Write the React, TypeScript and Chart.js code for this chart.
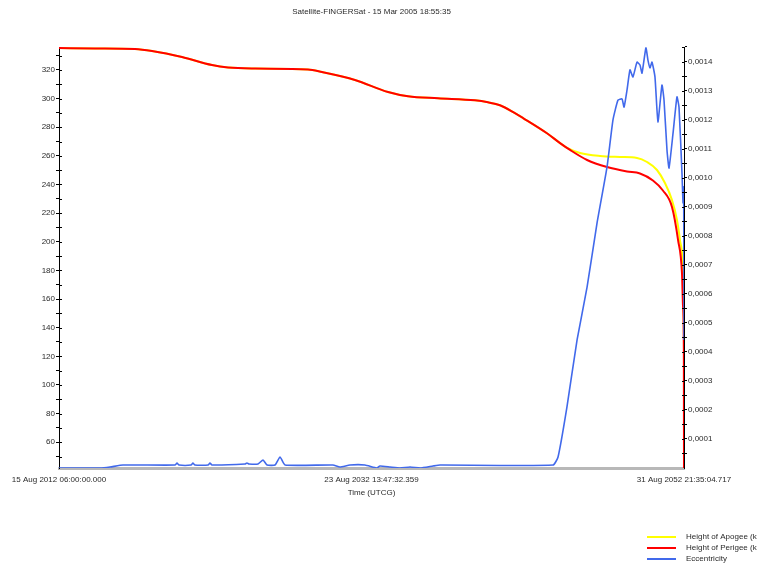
import React, { useEffect, useRef } from 'react';
import { Chart, registerables } from 'chart.js';

Chart.register(...registerables);

const chartTitle = 'Satellite-FINGERSat - 15 Mar 2005 18:55:35';
const xAxisTitle = 'Time (UTCG)';
const xTickLabels = ['15 Aug 2012 06:00:00.000', '23 Aug 2032 13:47:32.359', '31 Aug 2052 21:35:04.717'];
const xTickYears = [0, 20.02, 40.04];

const seriesLabels = ['Height of Apogee (km)', 'Height of Perigee (km)', 'Eccentricity'];
const seriesColors = ['rgb(255,255,0)', 'rgb(255,0,0)', 'rgb(65,105,235)'];

// years since 15 Aug 2012 06:00 UTCG
const perigeeYears = [0, 2.31, 4.87, 5.96, 7.88, 9.8, 10.83, 12.56, 15.95, 16.85, 18.96, 21.08, 22.36, 24.28, 26.65, 27.48, 28.25, 29.21, 29.73, 31.26, 32.1, 32.74, 33.83, 35.11, 36.39, 37.22, 38.05, 38.69, 39.27, 39.66, 39.91, 39.98, 40.03, 40.04];
const perigeeKm = [335.3, 335.0, 334.6, 333.2, 329.0, 323.4, 321.7, 321.0, 320.3, 318.5, 313.0, 304.6, 301.6, 300.2, 298.8, 297.4, 295.3, 289.8, 286.4, 275.8, 268.9, 264.1, 257.1, 252.2, 249.1, 247.7, 242.8, 235.8, 224.3, 201.2, 178.2, 154.4, 124.4, 30];

const apogeeYears = [0, 2.31, 4.87, 5.96, 7.88, 9.8, 10.83, 12.56, 15.95, 16.85, 18.96, 21.08, 22.36, 24.28, 26.65, 27.48, 28.25, 29.21, 29.73, 31.26, 32.1, 32.55, 33.38, 34.66, 35.94, 37.03, 37.67, 38.31, 38.82, 39.27, 39.59, 39.78, 39.98, 40.02, 40.04];
const apogeeKm = [335.3, 335.0, 334.6, 333.2, 329.0, 323.4, 321.7, 321.0, 320.3, 318.5, 313.0, 304.6, 301.6, 300.2, 298.8, 297.4, 295.3, 289.8, 286.4, 275.8, 268.9, 265.5, 262.0, 259.9, 259.2, 258.5, 255.7, 250.1, 241.0, 229.1, 215.2, 201.2, 178.2, 154.4, 124.4];

const eccYears = [0, 2.63, 3.27, 4.1, 7.43, 7.56, 7.69, 8.46, 8.58, 8.71, 9.55, 9.67, 9.8, 11.92, 12.04, 12.17, 12.75, 13.07, 13.33, 13.84, 14.16, 14.48, 17.55, 18.0, 18.64, 19.6, 20.37, 20.56, 21.21, 21.85, 22.49, 23.13, 23.96, 24.41, 31.65, 31.97, 32.54, 33.19, 33.83, 34.47, 35.11, 35.49, 35.81, 36.07, 36.2, 36.39, 36.58, 36.77, 37.03, 37.22, 37.35, 37.6, 37.73, 37.86, 37.99, 38.18, 38.37, 38.63, 38.76, 38.95, 39.08, 39.34, 39.59, 39.72, 39.91, 39.98, 40.02, 40.04];
const eccValues = [0, 0, 0.0000034, 0.0000103, 0.0000103, 0.0000172, 0.0000103, 0.0000103, 0.0000172, 0.0000103, 0.0000103, 0.0000172, 0.0000103, 0.0000138, 0.0000172, 0.0000138, 0.0000138, 0.0000276, 0.0000103, 0.0000103, 0.0000379, 0.0000103, 0.0000103, 0.0000034, 0.0000103, 0.0000103, 0, 0.0000069, 0.0000034, 0, 0.0000034, 0, 0.0000069, 0.0000103, 0.0000103, 0.0000379, 0.00021, 0.000441, 0.000623, 0.000844, 0.001037, 0.001199, 0.001267, 0.001271, 0.001243, 0.001302, 0.001371, 0.001347, 0.001398, 0.001388, 0.00136, 0.001447, 0.001405, 0.001378, 0.001398, 0.001347, 0.001192, 0.001319, 0.001267, 0.001095, 0.001033, 0.001154, 0.001278, 0.001243, 0.001016, 0.000913, 0.000968, 0.000441];

const leftTicks = [50, 60, 70, 80, 90, 100, 110, 120, 130, 140, 150, 160, 170, 180, 190, 200, 210, 220, 230, 240, 250, 260, 270, 280, 290, 300, 310, 320, 330];
const rightTickSteps = [1, 2, 3, 4, 5, 6, 7, 8, 9, 10, 11, 12, 13, 14, 15, 16, 17, 18, 19, 20, 21, 22, 23, 24, 25, 26, 27, 28, 29]; // x 0.00005

const FONT = "'Liberation Sans', Arial, sans-serif";
const TXT = '#2a2a2a';

const zip = (xs: number[], ys: number[]) => xs.map((x, i) => ({ x, y: ys[i] }));

export default function App() {
  const ref = useRef<HTMLCanvasElement>(null);
  useEffect(() => {
    document.body.style.margin = '0';
    const overlay = {
      id: 'overlay',
      afterDraw(chart: any) {
        const ctx = chart.ctx;
        const ca = chart.chartArea;
        ctx.save();
        ctx.fillStyle = TXT;
        ctx.font = `8px ${FONT}`;
        ctx.textAlign = 'center';
        ctx.textBaseline = 'middle';
        ctx.fillText(chartTitle, (ca.left + ca.right) / 2, 12);
        ctx.fillText(xAxisTitle, (ca.left + ca.right) / 2, 493);
        // inner tick marks on both value axes
        ctx.strokeStyle = '#000';
        ctx.lineWidth = 1;
        const yl = chart.scales.y;
        yl.ticks.forEach((t: any) => {
          const py = Math.round(yl.getPixelForValue(t.value)) + 0.5;
          ctx.beginPath(); ctx.moveTo(ca.left, py); ctx.lineTo(ca.left + 3, py); ctx.stroke();
        });
        const yr = chart.scales.y1;
        yr.ticks.forEach((t: any) => {
          const py = Math.round(yr.getPixelForValue(t.value)) + 0.5;
          ctx.beginPath(); ctx.moveTo(ca.right - 2, py); ctx.lineTo(ca.right, py); ctx.stroke();
        });
        // legend
        ctx.textAlign = 'left';
        seriesLabels.forEach((lab, i) => {
          const y = 537 + i * 11;
          ctx.strokeStyle = seriesColors[i];
          ctx.lineWidth = 2;
          ctx.beginPath(); ctx.moveTo(647, y); ctx.lineTo(676, y); ctx.stroke();
          ctx.fillStyle = TXT;
          ctx.fillText(lab, 686, y);
        });
        ctx.restore();
      },
    };
    const chart = new Chart(ref.current as HTMLCanvasElement, {
      type: 'line',
      data: {
        datasets: [
          { label: seriesLabels[0], data: zip(apogeeYears, apogeeKm), borderColor: seriesColors[0], borderWidth: 2, pointRadius: 0, yAxisID: 'y', order: 2, cubicInterpolationMode: 'monotone' },
          { label: seriesLabels[1], data: zip(perigeeYears, perigeeKm), borderColor: seriesColors[1], borderWidth: 2, pointRadius: 0, yAxisID: 'y', order: 1, cubicInterpolationMode: 'monotone' },
          { label: seriesLabels[2], data: zip(eccYears, eccValues), borderColor: seriesColors[2], borderWidth: 1.6, pointRadius: 0, yAxisID: 'y1', order: 0, tension: 0.15 },
        ] as any,
      },
      options: {
        responsive: false,
        animation: false,
        events: [],
        layout: { padding: { top: 47, left: 0, right: 0, bottom: 0 } },
        plugins: { legend: { display: false }, title: { display: false }, tooltip: { enabled: false } },
        scales: {
          x: {
            type: 'linear',
            min: 0,
            max: 40.04,
            afterBuildTicks: (s: any) => { s.ticks = xTickYears.map((v) => ({ value: v })); },
            afterFit: (s: any) => { s.height = 95; },
            grid: { display: false, drawTicks: false },
            border: { display: true, color: '#b8b8b8', width: 3 },
            ticks: {
              autoSkip: false, maxRotation: 0, minRotation: 0, padding: 7,
              color: TXT, font: { family: FONT, size: 8 },
              callback: (_v: any, i: number) => xTickLabels[i],
            },
          },
          y: {
            position: 'left',
            min: 42,
            max: 336,
            afterBuildTicks: (s: any) => { s.ticks = leftTicks.map((v) => ({ value: v })); },
            afterFit: (s: any) => { s.width = 59; },
            grid: { drawOnChartArea: false, drawTicks: true, tickLength: 3, color: '#000' },
            border: { display: true, color: '#000', width: 1 },
            ticks: {
              autoSkip: false, padding: 1, color: TXT, font: { family: FONT, size: 8 },
              callback: (v: any) => (Math.round(v) % 20 === 0 ? String(Math.round(v)) : ''),
            },
          },
          y1: {
            position: 'right',
            min: 0,
            max: 0.00145,
            afterBuildTicks: (s: any) => { s.ticks = rightTickSteps.map((k) => ({ value: k * 0.00005 })); },
            afterFit: (s: any) => { s.width = 73; },
            grid: { drawOnChartArea: false, drawTicks: true, tickLength: 3, color: '#000' },
            border: { display: true, color: '#000', width: 1 },
            ticks: {
              autoSkip: false, padding: 1, color: TXT, font: { family: FONT, size: 8 },
              callback: (v: any) => {
                const k = Math.round(v / 0.00005);
                return k % 2 === 0 ? (v as number).toFixed(4).replace('.', ',') : '';
              },
            },
          },
        },
      } as any,
      plugins: [overlay],
    });
    return () => chart.destroy();
  }, []);
  return (
    <div style={{ width: 757, height: 563, background: '#fff' }}>
      <canvas ref={ref} width={757} height={563} style={{ display: 'block' }} />
    </div>
  );
}
